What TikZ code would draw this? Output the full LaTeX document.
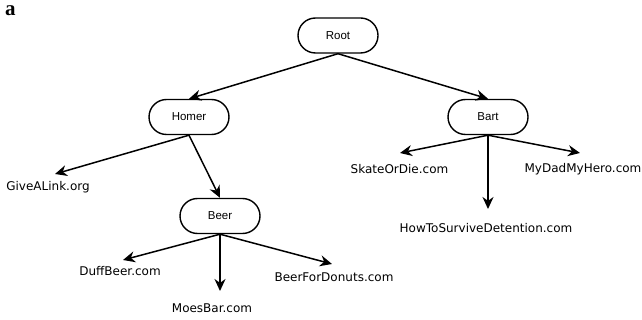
\documentclass[tikz,border=0pt]{standalone}
\usepackage{fontspec}
\setmainfont{Liberation Serif}
\newfontfamily\boxfont{Liberation Sans}
\newfontfamily\urlfont{DejaVu Sans}
\usetikzlibrary{arrows.meta}

\begin{document}
\begin{tikzpicture}[x=1pt,y=-1pt]
\tikzstyle{every node}+=[inner sep=0pt]
\tikzstyle{topic}=[draw=black, line width=1.4pt, rounded corners=17.5pt, minimum width=80pt, minimum height=35pt, font=\boxfont\fontsize{11.5}{13}\selectfont]
\tikzstyle{site}=[font=\urlfont\fontsize{12}{14}\selectfont]
\tikzstyle{link}=[line width=1.5pt, -{Stealth[length=12pt,width=11pt]}]
\useasboundingbox (0,0) rectangle (642,320);
\node [anchor=base west, font=\bfseries\fontsize{21}{21}\selectfont] (panel) at (5,16) {a};
% topics
\node [topic] (root) at (338,35.5) {Root};
\node [topic] (homer) at (189,117) {Homer};
\node [topic] (bart) at (488,117) {Bart};
\node [topic] (beer) at (220,216) {Beer};
% sites
\node [site] (give) at (48,187) {GiveALink.org};
\node [site] (duff) at (120,271) {DuffBeer.com};
\node [site] (moes) at (212,308) {MoesBar.com};
\node [site] (donuts) at (334,277) {BeerForDonuts.com};
\node [site] (skate) at (399.5,169) {SkateOrDie.com};
\node [site] (hero) at (583,169) {MyDadMyHero.com};
\node [site] (howto) at (486,228) {HowToSurviveDetention.com};
\coordinate (giveTip) at (55,174);
\coordinate (duffTip) at (123,260);
\coordinate (moesTip) at (220,291);
\coordinate (donutsTip) at (332,264);
\coordinate (skateTip) at (400,153);
\coordinate (heroTip) at (580,153);
\coordinate (howtoTip) at (488,209);
% edges
\draw [link] (root.south) -- (homer.north);
\draw [link] (root.south) -- (bart.north);
\draw [link] (homer.south) -- (giveTip);
\draw [link] (homer.south) -- (beer.north);
\draw [link] (beer.south) -- (duffTip);
\draw [link] (beer.south) -- (moesTip);
\draw [link] (beer.south) -- (donutsTip);
\draw [link] (bart.south) -- (skateTip);
\draw [link] (bart.south) -- (heroTip);
\draw [link] (bart.south) -- (howtoTip);
\end{tikzpicture}
\end{document}
